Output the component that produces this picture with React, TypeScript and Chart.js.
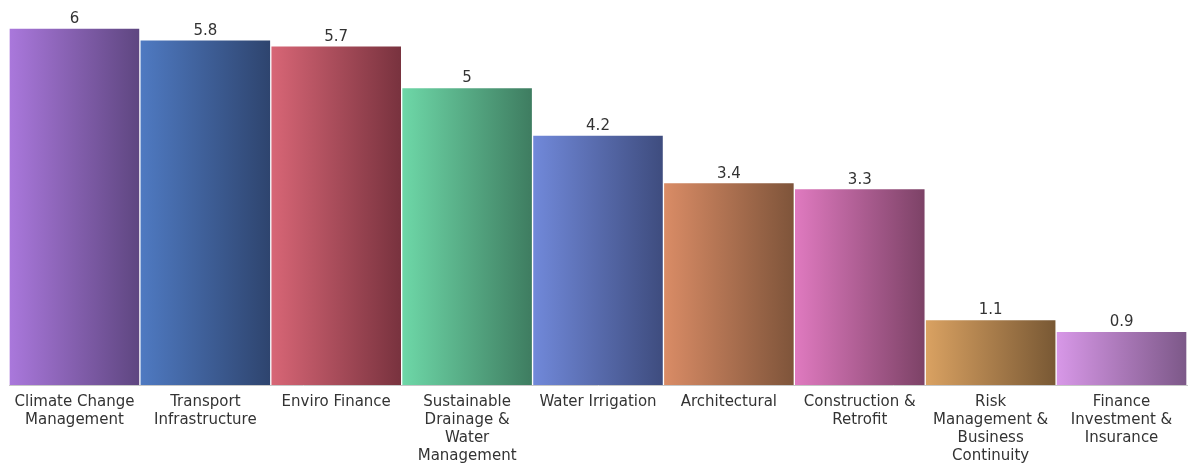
import React, { useEffect, useRef } from "react";
import { Chart, registerables } from "chart.js";

Chart.register(...registerables);

const categories: string[][] = [
  ["Climate Change", "Management"],
  ["Transport", "Infrastructure"],
  ["Enviro Finance"],
  ["Sustainable", "Drainage &", "Water", "Management"],
  ["Water Irrigation"],
  ["Architectural"],
  ["Construction &", "Retrofit"],
  ["Risk", "Management &", "Business", "Continuity"],
  ["Finance", "Investment &", "Insurance"],
];

const values: number[] = [6, 5.8, 5.7, 5, 4.2, 3.4, 3.3, 1.1, 0.9];

const gradientStart: string[] = [
  "#AA78DC", "#4F7AC2", "#D86676", "#6ED8A8", "#7189DA", "#DA8C66", "#E07AC0", "#DAA262", "#D898E8",
];
const gradientEnd: string[] = [
  "#5E4680", "#2E446E", "#78323E", "#3E7C60", "#3E4C7E", "#7E543A", "#7C4266", "#785834", "#7C5888",
];

const FONT = "'DejaVu Sans', Verdana, sans-serif";

const valueLabelPlugin = {
  id: "valueLabels",
  afterDatasetsDraw(chart: any) {
    const { ctx } = chart;
    const meta = chart.getDatasetMeta(0);
    ctx.save();
    ctx.font = `15px ${FONT}`;
    ctx.fillStyle = "#333333";
    ctx.textAlign = "center";
    ctx.textBaseline = "middle";
    meta.data.forEach((bar: any, i: number) => {
      ctx.fillText(String(values[i]), bar.x, bar.y - 9);
    });
    ctx.restore();
  },
};

export default function App() {
  const canvasRef = useRef<HTMLCanvasElement | null>(null);

  useEffect(() => {
    if (!canvasRef.current) return;
    const chart = new Chart(canvasRef.current, {
      type: "bar",
      data: {
        labels: categories,
        datasets: [
          {
            data: values,
            backgroundColor: (context: any) => {
              const ch = context.chart;
              const area = ch.chartArea;
              const i = context.dataIndex;
              if (!area || i === undefined || !isFinite(area.left) || !isFinite(area.right) || area.right <= area.left) {
                return gradientStart[i ?? 0] ?? gradientStart[0];
              }
              const w = (area.right - area.left) / categories.length;
              const x0 = area.left + i * w;
              const g = ch.ctx.createLinearGradient(x0, 0, x0 + w, 0);
              g.addColorStop(0, gradientStart[i]);
              g.addColorStop(1, gradientEnd[i]);
              return g;
            },
            borderColor: "rgba(255,255,255,0.15)",
            borderWidth: 1,
            barPercentage: 1,
            categoryPercentage: 1,
          },
        ],
      },
      options: {
        animation: false,
        responsive: false,
        maintainAspectRatio: false,
        layout: { padding: { top: 28, left: 9, right: 1, bottom: 0 } },
        plugins: {
          legend: { display: false },
          tooltip: { enabled: false },
          title: { display: false },
        },
        scales: {
          x: {
            grid: { display: false, drawTicks: false },
            border: { display: true, color: "#C8C8C8", width: 1 },
            ticks: {
              color: "#333333",
              font: { family: FONT, size: 15, lineHeight: 1.2 },
              padding: 8,
              maxRotation: 0,
              autoSkip: false,
            },
            afterFit: (scale: any) => {
              scale.height = 79;
            },
          },
          y: {
            display: false,
            min: 0,
            max: 6,
          },
        },
      },
      plugins: [valueLabelPlugin],
    });
    return () => chart.destroy();
  }, []);

  return (
    <div style={{ position: "absolute", left: 0, top: 0, width: 1188, height: 464, background: "#ffffff" }}>
      <canvas ref={canvasRef} width={1188} height={464} style={{ width: 1188, height: 464 }} />
    </div>
  );
}
